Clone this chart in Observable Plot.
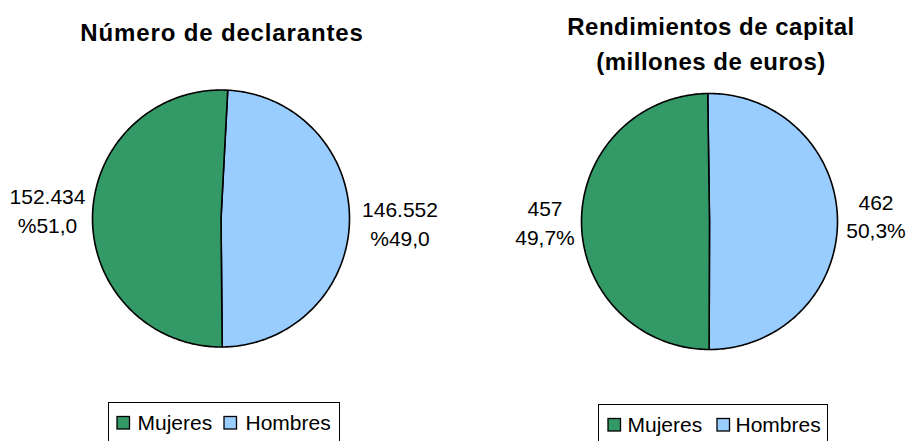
<!DOCTYPE html>
<html>
<head>
<meta charset="utf-8">
<script src="https://cdn.jsdelivr.net/npm/d3@7"></script>
<script src="https://cdn.jsdelivr.net/npm/@observablehq/plot@0.6"></script>
<style>
  html, body { margin: 0; padding: 0; background: #fff; overflow: hidden; }
</style>
</head>
<body>
<div id="chart"></div>
<script>
// ---- Data ----
const categories = ["Mujeres", "Hombres"];
const sliceColors = ["#339966", "#99ccff"];
const declarantes = [152434, 146552];
const declarantesText = ["152.434", "146.552"];
const declarantesPct = ["%51,0", "%49,0"];
const rendimientos = [457, 462];
const rendimientosText = ["457", "462"];
const rendimientosPct = ["49,7%", "50,3%"];
const titleDeclarantes = ["Número de declarantes"];
const titleRendimientos = ["Rendimientos de capital", "(millones de euros)"];

// ---- Layout (pixel positions) ----
const W = 910, H = 441;
const FONT = "Liberation Sans, Arial, Helvetica, sans-serif";
const pies = [
  {
    values: declarantes, texts: declarantesText, pcts: declarantesPct, title: titleDeclarantes,
    cx: 220.5, cy: 218, r: 128.5, start: 3,
    titleX: 221.5, titleBase: [40], titleSpacing: 0.85,
    labels: [{x: 47, y1: 203.5, y2: 232.5}, {x: 399.5, y1: 216.5, y2: 245.5}],
    legend: {x1: 108.5, x2: 339.5, y1: 402.5, base: 429, sw: [117, 224], tx: [137, 245]}
  },
  {
    values: rendimientos, texts: rendimientosText, pcts: rendimientosPct, title: titleRendimientos,
    cx: 709, cy: 221, r: 128, start: -0.8,
    titleX: 710.5, titleBase: [34, 69], titleSpacing: 0.5,
    labels: [{x: 544.5, y1: 215, y2: 244.5}, {x: 875.5, y1: 209, y2: 237.5}],
    legend: {x1: 598.5, x2: 827.5, y1: 404.5, base: 431, sw: [608, 717], tx: [627, 735]}
  }
];

const rad = d => d * Math.PI / 180;
const marks = [];

for (const p of pies) {
  const total = d3.sum(p.values);
  // Drawn clockwise from the top: Hombres first, then Mujeres
  const order = [1, 0];
  let a = p.start;
  for (const i of order) {
    const span = 360 * p.values[i] / total;
    const a0 = a, a1 = a + span;
    const N = 180;
    const pts = [{x: p.cx, y: p.cy}];
    for (let k = 0; k <= N; k++) {
      const t = rad(a0 + (a1 - a0) * k / N);
      pts.push({x: p.cx + p.r * Math.sin(t), y: p.cy - p.r * Math.cos(t)});
    }
    pts.push({x: p.cx, y: p.cy});
    marks.push(Plot.line(pts, {x: "x", y: "y", fill: sliceColors[i], stroke: "#000", strokeWidth: 1.6, strokeLinejoin: "round"}));
    a = a1;
  }
  // labels
  const lab = categories.map((c, i) => ({t: p.texts[i], q: p.pcts[i], ...p.labels[i]}));
  marks.push(Plot.text(lab, {x: "x", y: "y1", text: "t", lineAnchor: "bottom", textAnchor: "middle", fontSize: 21, fontFamily: FONT, fill: "#000"}));
  marks.push(Plot.text(lab, {x: "x", y: "y2", text: "q", lineAnchor: "bottom", textAnchor: "middle", fontSize: 21, fontFamily: FONT, fill: "#000"}));
  // title
  const tl = p.title.map((t, j) => ({t, x: p.titleX, y: p.titleBase[j]}));
  marks.push(Plot.text(tl, {x: "x", y: "y", text: "t", lineAnchor: "bottom", textAnchor: "middle", fontSize: 24, fontWeight: "bold", fontFamily: FONT, fill: "#000"}));
  // legend
  const L = p.legend;
  marks.push(Plot.rect([L], {x1: "x1", x2: "x2", y1: "y1", y2: () => H + 4, fill: "#fff", stroke: "#000", strokeWidth: 1}));
  const items = categories.map((c, i) => ({c, col: sliceColors[i], sx: L.sw[i], tx: L.tx[i], base: L.base}));
  marks.push(Plot.rect(items, {x1: "sx", x2: d => d.sx + 12.5, y1: d => d.base - 12.5, y2: d => d.base, fill: "col", stroke: "#000", strokeWidth: 1.3}));
  marks.push(Plot.text(items, {x: "tx", y: "base", text: "c", lineAnchor: "bottom", textAnchor: "start", fontSize: 21, fontFamily: FONT, fill: "#000"}));
}

const chart = Plot.plot({
  width: W, height: H,
  margin: 0,
  x: {domain: [0, W], range: [0, W], axis: null},
  y: {domain: [0, H], range: [0, H], axis: null},
  color: {type: "identity"},
  style: {background: "#fff", fontFamily: FONT},
  marks
});
// widen title letter spacing as in the original rendering
for (const p of pies) {
  d3.select(chart).selectAll("text").filter(function () {
    return p.title.includes(this.textContent);
  }).attr("letter-spacing", p.titleSpacing + "px");
}
document.getElementById("chart").appendChild(chart);
</script>
</body>
</html>
